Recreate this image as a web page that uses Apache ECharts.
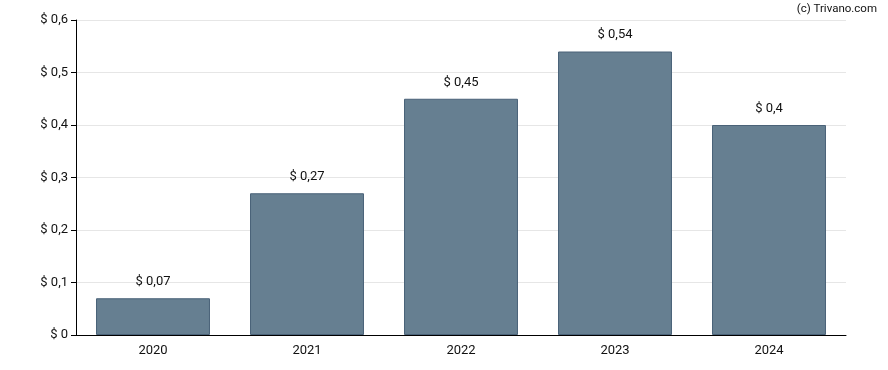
<!DOCTYPE html>
<html><head><meta charset="utf-8">
<script src="https://cdn.jsdelivr.net/npm/echarts@6/dist/echarts.min.js"></script>
<style>html,body{margin:0;padding:0;background:#fff}#c{width:888px;height:370px}</style>
</head><body><div id="c"></div>
<script>
const categories = ['2020','2021','2022','2023','2024'];
const values = [0.07, 0.27, 0.45, 0.54, 0.4];
const yTicks = [0, 0.1, 0.2, 0.3, 0.4, 0.5, 0.6];
const fmt = v => '$ ' + String(+v.toFixed(2)).replace('.', ',');
const chart = echarts.init(document.getElementById('c'), null, {renderer:'canvas'});
chart.setOption({
  animation:false,
  textStyle:{fontFamily:'Roboto'},
  graphic:[{type:'text', right:11, top:3, style:{text:'(c) Trivano.com', font:'11.5px Roboto', fill:'#111'}}],
  grid:{left:76, right:42, top:20, bottom:35, containLabel:false},
  xAxis:{type:'category', data:categories,
    axisLine:{lineStyle:{color:'#000'}},
    axisTick:{alignWithLabel:true, length:5, lineStyle:{color:'#000'}},
    axisLabel:{color:'#111', fontSize:13, margin:9}},
  yAxis:{type:'value', min:yTicks[0], max:yTicks[yTicks.length-1], interval:0.1,
    axisLine:{show:true, lineStyle:{color:'#000'}},
    axisTick:{show:true, length:5, lineStyle:{color:'#000'}},
    splitLine:{lineStyle:{color:'#e6e6e6'}},
    axisLabel:{color:'#111', fontSize:13, margin:8, formatter:v=>fmt(v)}},
  series:[{type:'bar', data:values, barWidth:'74%',
    itemStyle:{color:'#667f91', borderColor:'#4a6278', borderWidth:1},
    label:{show:true, position:'top', distance:10, color:'#111', fontSize:13, formatter:p=>fmt(p.value)}}]
});
</script></body></html>
